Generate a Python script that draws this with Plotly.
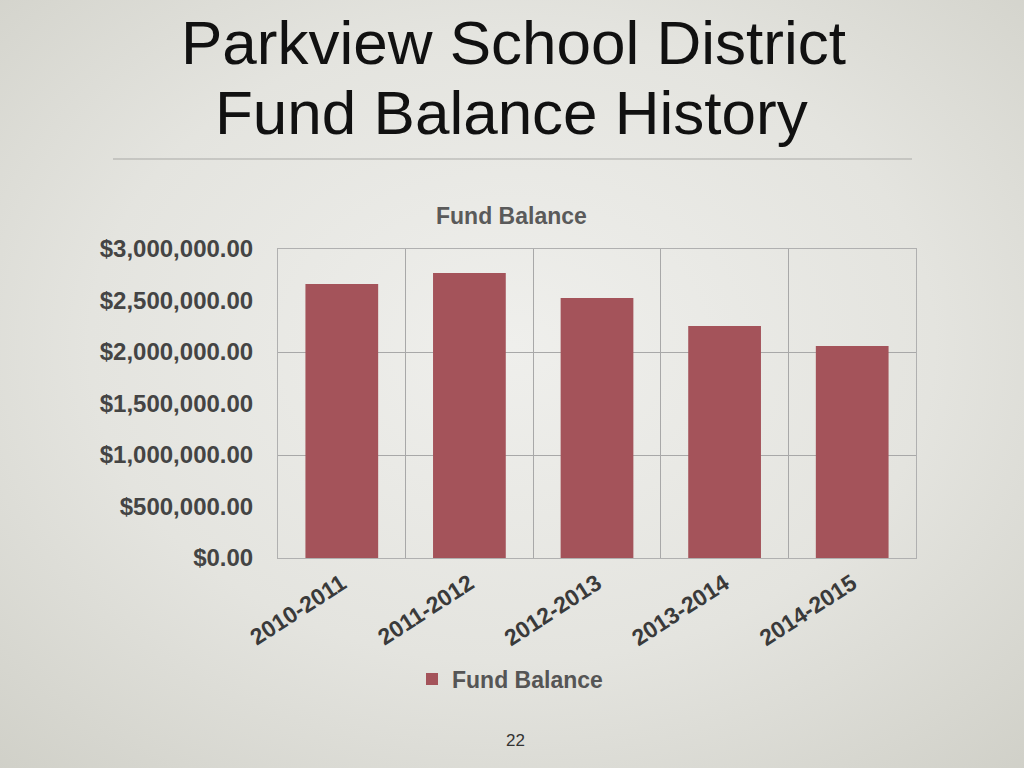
import base64
import plotly.graph_objects as go

categories = ["2010-2011", "2011-2012", "2012-2013", "2013-2014", "2014-2015"]
fund_balance = [2660000, 2767000, 2524000, 2252000, 2058000]
series_name = "Fund Balance"
y_ticks = [0, 500000, 1000000, 1500000, 2000000, 2500000, 3000000]
page_title_1 = "Parkview School District"
page_title_2 = "Fund Balance History"
page_number = "22"

W, H = 1024, 768
L, R, T, B = 278, 916, 249, 558
FONT = "Liberation Sans, Arial, sans-serif"


def px(x):
    return (x - L) / (R - L)


def py(y):
    return (B - y) / (B - T)


svg = f"""<svg xmlns='http://www.w3.org/2000/svg' width='{W}' height='{H}' viewBox='0 0 {W} {H}' preserveAspectRatio='none'>
<defs><radialGradient id='g' cx='50%' cy='45%' r='75%'>
<stop offset='0%' stop-color='#efefec'/><stop offset='55%' stop-color='#e4e4df'/><stop offset='100%' stop-color='#d0d0c8'/>
</radialGradient></defs><rect width='{W}' height='{H}' fill='url(#g)'/></svg>"""
bg_uri = "data:image/svg+xml;base64," + base64.b64encode(svg.encode()).decode()

fig = go.Figure()
fig.add_trace(go.Bar(
    x=categories, y=fund_balance, name=series_name,
    marker=dict(color="#a4535a", line=dict(width=0)),
    width=0.57, showlegend=True,
))
# invisible trace on second y-axis for major gridlines
fig.add_trace(go.Scatter(x=categories, y=fund_balance, yaxis="y2", mode="none",
                         showlegend=False, hoverinfo="skip"))

tick_font = dict(family=FONT, size=24, color="#444444", weight="bold")

fig.update_layout(
    width=W, height=H, autosize=False,
    margin=dict(l=L, r=W - R, t=T, b=H - B, pad=0),
    paper_bgcolor="#e6e6e1",
    plot_bgcolor="rgba(0,0,0,0)",
    font=dict(family=FONT),
    showlegend=True,
    legend=dict(orientation="h", x=px(510), y=py(679), xanchor="center", yanchor="middle",
                bgcolor="rgba(0,0,0,0)",
                font=dict(family=FONT, size=23, color="#555555", weight="bold"),
                itemwidth=30, traceorder="normal"),
    xaxis=dict(
        type="category", tickangle=-33,
        tickfont=dict(family=FONT, size=23, color="#3a3a3a", weight="bold"),
        tickson="boundaries", showgrid=True, gridcolor="#a8a8a8", gridwidth=1,
        showline=True, linecolor="#b0b0b0", linewidth=1, mirror=True,
        ticks="", ticklabelstandoff=2,
    ),
    yaxis=dict(
        range=[0, 3000000], tickvals=y_ticks, tickformat="$,.2f",
        tickfont=tick_font, showgrid=False, zeroline=False,
        showline=True, linecolor="#b0b0b0", linewidth=1, mirror=True,
        ticks="", ticklabelstandoff=19,
    ),
    yaxis2=dict(
        range=[0, 3000000], dtick=1000000, overlaying="y", side="left",
        showgrid=True, gridcolor="#a8a8a8", gridwidth=1, showticklabels=False,
        zeroline=False, showline=False,
    ),
    images=[dict(source=bg_uri, xref="paper", yref="paper", x=px(0), y=py(0),
                 sizex=px(W) - px(0), sizey=py(0) - py(H), sizing="stretch",
                 layer="below", xanchor="left", yanchor="top")],
    shapes=[dict(type="line", xref="paper", yref="paper", x0=px(113), x1=px(912),
                 y0=py(159), y1=py(159), line=dict(color="#a9a9a6", width=1))],
    annotations=[
        dict(text=page_title_1, xref="paper", yref="paper", x=px(513), y=py(42),
             xanchor="center", yanchor="middle", showarrow=False,
             font=dict(family=FONT, size=62, color="#111111")),
        dict(text=page_title_2, xref="paper", yref="paper", x=px(511), y=py(113),
             xanchor="center", yanchor="middle", showarrow=False,
             font=dict(family=FONT, size=62, color="#111111")),
        dict(text="Fund Balance", xref="paper", yref="paper", x=px(511), y=py(216),
             xanchor="center", yanchor="middle", showarrow=False,
             font=dict(family=FONT, size=23, color="#5a5a5a", weight="bold")),
        dict(text=page_number, xref="paper", yref="paper", x=px(515), y=py(740),
             xanchor="center", yanchor="middle", showarrow=False,
             font=dict(family=FONT, size=17, color="#333333")),
    ],
)

fig.write_html(
    "out.html",
    config={"displayModeBar": False},
    post_script="document.body.style.margin='0';document.body.style.overflow='hidden';"
                "document.body.style.background='#e6e6e1';",
)
